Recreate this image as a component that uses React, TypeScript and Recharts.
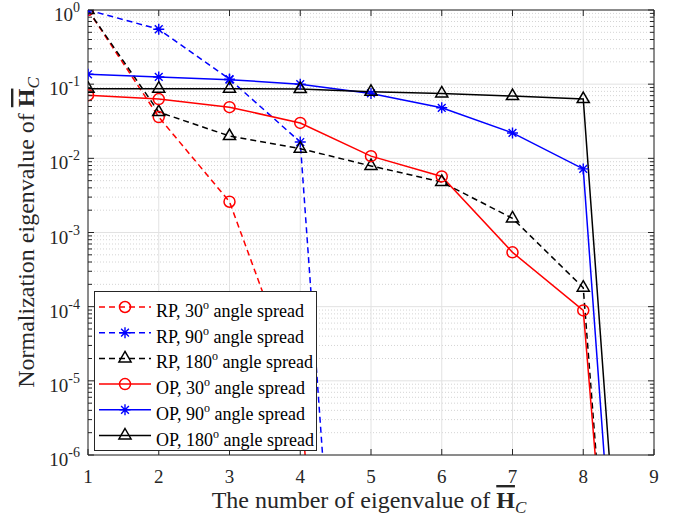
import { CartesianGrid, Label, Legend, Line, LineChart, XAxis, YAxis } from 'recharts';

// eigenvalue index (x) and normalized eigenvalues
const eigIndex = [1, 2, 3, 4, 5, 6, 7, 8, 9];
const rp30 = [1, 0.036, 0.0026, 6.5e-6, 1e-17, 1e-17, 1e-17, 1e-17, 1e-17];
const rp90 = [1, 0.55, 0.117, 0.0166, 7e-16, 1e-16, 1e-16, 1e-16, 1e-16];
const rp180 = [1, 0.042, 0.02, 0.0135, 0.0079, 0.0048, 0.00155, 0.00018, 8e-17];
const op30 = [0.071, 0.063, 0.049, 0.03, 0.0107, 0.0057, 0.00054, 0.000089, 2.5e-16];
const op90 = [0.136, 0.125, 0.115, 0.1, 0.075, 0.048, 0.022, 0.0072, 6e-16];
const op180 = [0.087, 0.087, 0.087, 0.086, 0.079, 0.075, 0.069, 0.063, 5e-15];

const xTicks = [1, 2, 3, 4, 5, 6, 7, 8, 9];
const decades = [1e-6, 1e-5, 1e-4, 1e-3, 1e-2, 1e-1, 1];
const decadeExp = ['-6', '-5', '-4', '-3', '-2', '-1', '0'];
const minorMult = [2, 3, 4, 5, 6, 7, 8, 9];
const minorTicks = decades.slice(0, -1).flatMap((d) => minorMult.map((m) => d * m));
const yTicks = [...decades, ...minorTicks];

const seriesNames = ['RP, 30', 'RP, 90', 'RP, 180', 'OP, 30', 'OP, 90', 'OP, 180'];

const series = [
  { key: 'rp30', values: rp30, color: '#ff0000', dashed: true, marker: 'circle' },
  { key: 'rp90', values: rp90, color: '#0000ff', dashed: true, marker: 'star' },
  { key: 'rp180', values: rp180, color: '#000000', dashed: true, marker: 'triangle' },
  { key: 'op30', values: op30, color: '#ff0000', dashed: false, marker: 'circle' },
  { key: 'op90', values: op90, color: '#0000ff', dashed: false, marker: 'star' },
  { key: 'op180', values: op180, color: '#000000', dashed: false, marker: 'triangle' },
].map((s, i) => ({ ...s, name: seriesNames[i] }));

const rows = eigIndex.map((x, i) => {
  const row: Record<string, number> = { x };
  series.forEach((s) => {
    row[s.key] = s.values[i];
  });
  return row;
});

const AXIS = '#262626';
const FONT = '"Liberation Serif", "Times New Roman", serif';
const DASH = '6 4';

const Marker = ({ kind, cx, cy, color }: { kind: string; cx: number; cy: number; color: string }) => {
  if (kind === 'circle') {
    return <circle cx={cx} cy={cy} r={5.5} fill="none" stroke={color} strokeWidth={1.5} />;
  }
  if (kind === 'star') {
    const r = 5.5;
    const d = r * 0.707;
    return (
      <path
        d={`M${cx - r},${cy}h${2 * r}M${cx},${cy - r}v${2 * r}M${cx - d},${cy - d}l${2 * d},${2 * d}M${cx - d},${cy + d}l${2 * d},${-2 * d}`}
        stroke={color}
        strokeWidth={1.4}
        fill="none"
      />
    );
  }
  const r = 7;
  return (
    <path
      d={`M${cx},${cy - r}L${cx + 0.866 * r},${cy + 0.5 * r}L${cx - 0.866 * r},${cy + 0.5 * r}Z`}
      fill="none"
      stroke={color}
      strokeWidth={1.5}
    />
  );
};

const makeDot = (kind: string, color: string, key: string) => (p: any) => {
  const v = p.payload ? p.payload[key] : p.value;
  if (v == null || v < 1e-6 || p.cx == null || p.cy == null) return <g key={`d${p.index}`} />;
  return (
    <g key={`d${p.index}`}>
      <Marker kind={kind} cx={p.cx} cy={p.cy} color={color} />
    </g>
  );
};

const BottomTick = ({ x, y, payload }: any) => (
  <g>
    <line x1={x} x2={x} y1={y} y2={y - 6} stroke={AXIS} />
    <text x={x} y={y + 28} textAnchor="middle" fontSize={19} fill={AXIS} fontFamily={FONT}>
      {payload.value}
    </text>
  </g>
);

const TopTick = ({ x, y }: any) => <line x1={x} x2={x} y1={y} y2={y + 6} stroke={AXIS} />;

const LeftTick = ({ x, y, payload }: any) => {
  const i = decades.indexOf(payload.value);
  const major = i >= 0;
  return (
    <g>
      <line x1={x} x2={x + (major ? 6 : 4)} y1={y} y2={y} stroke={AXIS} />
      {major && (
        <text x={x - 8} y={y + 11} textAnchor="end" fontSize={19} fill={AXIS} fontFamily={FONT}>
          10
          <tspan dy={-9} fontSize={14}>
            {decadeExp[i]}
          </tspan>
        </text>
      )}
    </g>
  );
};

const RightTick = ({ x, y, payload }: any) => {
  const major = decades.indexOf(payload.value) >= 0;
  return <line x1={x} x2={x - (major ? 6 : 4)} y1={y} y2={y} stroke={AXIS} />;
};

const XLabel = ({ viewBox }: any) => {
  const cx = viewBox.x + viewBox.width / 2 - 2;
  return (
    <text x={cx} y={viewBox.y + 53} textAnchor="middle" fontSize={24} fill={AXIS} fontFamily={FONT}>
      The number of eigenvalue of{' '}
      <tspan fontWeight="bold" textDecoration="overline">
        H
      </tspan>
      <tspan fontStyle="italic" fontSize={17} dy={5}>
        C
      </tspan>
    </text>
  );
};

const YLabel = ({ viewBox }: any) => {
  const x = viewBox.x + 34;
  const y = viewBox.y + viewBox.height / 2;
  return (
    <text
      x={x}
      y={y}
      transform={`rotate(-90 ${x} ${y})`}
      textAnchor="middle"
      fontSize={24}
      fill={AXIS}
      fontFamily={FONT}
    >
      Normalization eigenvalue of{' '}
      <tspan fontWeight="bold" textDecoration="overline">
        H
      </tspan>
      <tspan fontStyle="italic" fontSize={17} dy={5}>
        C
      </tspan>
    </text>
  );
};

const LegendBox = () => (
  <svg width={223} height={160} style={{ display: 'block' }}>
    <rect x={0.5} y={0.5} width={222} height={159} fill="#fff" stroke={AXIS} strokeWidth={1} />
    {series.map((s, i) => {
      const y = 16 + i * 25.7;
      return (
        <g key={s.key}>
          <line
            x1={5}
            x2={57}
            y1={y}
            y2={y}
            stroke={s.color}
            strokeWidth={1.5}
            strokeDasharray={s.dashed ? DASH : undefined}
          />
          <Marker kind={s.marker} cx={31} cy={y} color={s.color} />
          <text x={62} y={y + 10} fontSize={18} fill="#000" fontFamily={FONT}>
            {s.name}
            <tspan dy={-8} fontSize={12}>
              o
            </tspan>
            <tspan dy={8}> angle spread</tspan>
          </text>
        </g>
      );
    })}
  </svg>
);

export default function App() {
  return (
    <div style={{ position: 'absolute', left: 0, top: 0, width: 683, height: 518, background: '#fff' }}>
      <LineChart width={683} height={518} data={rows} margin={{ top: 0, right: 0, bottom: 0, left: 0 }}>
        <CartesianGrid horizontalValues={minorTicks} vertical={false} stroke="#d4d4d4" strokeDasharray="1 2" />
        <CartesianGrid horizontalValues={decades} verticalValues={xTicks} stroke="#e2e2e2" />
        <XAxis
          dataKey="x"
          type="number"
          domain={[1, 9]}
          ticks={xTicks}
          interval={0}
          allowDataOverflow
          height={63}
          tickSize={0}
          tickMargin={0}
          tickLine={false}
          axisLine={{ stroke: AXIS }}
          tick={BottomTick}
        >
          <Label content={XLabel} />
        </XAxis>
        <XAxis
          xAxisId="top"
          orientation="top"
          type="number"
          domain={[1, 9]}
          ticks={xTicks}
          interval={0}
          allowDataOverflow
          height={10}
          tickSize={0}
          tickMargin={0}
          tickLine={false}
          axisLine={{ stroke: AXIS }}
          tick={TopTick}
        />
        <YAxis
          scale="log"
          type="number"
          domain={[1e-6, 1]}
          ticks={yTicks}
          interval={0}
          allowDataOverflow
          width={88}
          tickSize={0}
          tickMargin={0}
          tickLine={false}
          axisLine={{ stroke: AXIS }}
          tick={LeftTick}
        >
          <Label content={YLabel} />
        </YAxis>
        <YAxis
          yAxisId="right"
          orientation="right"
          scale="log"
          type="number"
          domain={[1e-6, 1]}
          ticks={yTicks}
          interval={0}
          allowDataOverflow
          width={29}
          tickSize={0}
          tickMargin={0}
          tickLine={false}
          axisLine={{ stroke: AXIS }}
          tick={RightTick}
        />
        {series.map((s) => (
          <Line
            key={s.key}
            type="linear"
            dataKey={s.key}
            name={s.name}
            stroke={s.color}
            strokeWidth={1.5}
            strokeDasharray={s.dashed ? DASH : undefined}
            dot={makeDot(s.marker, s.color, s.key)}
            activeDot={false}
            isAnimationActive={false}
          />
        ))}
        <Legend
          layout="vertical"
          align="center"
          verticalAlign="middle"
          content={LegendBox}
          wrapperStyle={{ left: 94, top: 291, width: 223, height: 160 }}
        />
      </LineChart>
    </div>
  );
}
